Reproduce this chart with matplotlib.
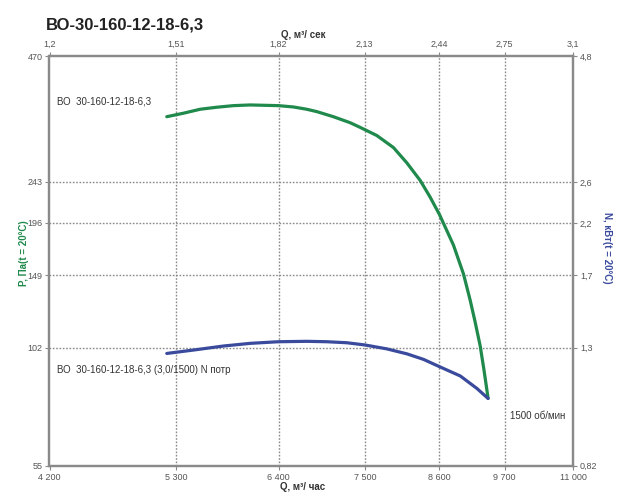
import matplotlib
matplotlib.use("Agg")
import matplotlib.pyplot as plt
import numpy as np

plt.rcParams['font.family'] = ['Liberation Sans', 'DejaVu Sans']

# Кривая давления P (Па) от Q (м3/час)
q_p = [5211, 5373, 5541, 5714, 5891, 6074, 6398, 6577, 6741, 6867, 7079, 7301, 7435,
       7668, 7906, 8105, 8305, 8457, 8605, 8828, 8993, 9104, 9188, 9274, 9339, 9410]
p_vals = [342.0, 348.3, 355.6, 359.4, 362.4, 363.7, 362.4, 359.9, 355.6, 351.2, 342.0,
          331.4, 323.5, 309.9, 291.0, 268.4, 244.9, 224.6, 204.8, 174.7, 150.1, 130.9,
          116.7, 102.9, 90.7, 78.2]

# Кривая мощности N (кВт) от Q (м3/час)
q_n = [5211, 5473, 5783, 6074, 6398, 6741, 6994, 7256, 7505, 7810, 8105, 8355, 8605,
       8940, 9216, 9410]
n_vals = [1.271, 1.288, 1.308, 1.321, 1.329, 1.331, 1.329, 1.324, 1.313, 1.294, 1.269,
          1.242, 1.207, 1.164, 1.109, 1.066]

# Оси
q_ticks = [4200, 5300, 6400, 7500, 8600, 9700, 11000]
q_labels = ['4 200', '5 300', '6 400', '7 500', '8 600', '9 700', '11 000']
qs_labels = ['1,2', '1,51', '1,82', '2,13', '2,44', '2,75', '3,1']
p_ticks = [55, 102, 149, 196, 243, 470]
n_ticks = [0.82, 1.3, 1.7, 2.2, 2.6, 4.8]
n_labels = ['0,82', '1,3', '1,7', '2,2', '2,6', '4,8']

green = '#1f8a4c'
blue = '#3a4a9c'
grey = '#8a8a8a'
txt = '#555555'

fig = plt.figure(figsize=(6.21, 4.94), dpi=100)
ax = fig.add_axes([49.5 / 621, 28.4 / 494, 523.5 / 621, 409.6 / 494])
ax.set_xscale('log')
ax.set_yscale('log')
ax.set_xlim(q_ticks[0], q_ticks[-1])
ax.set_ylim(p_ticks[0], p_ticks[-1])

# шкала N привязана к делениям P
lp = np.log10(p_ticks)
ln = np.log10(n_ticks)


def fwd(v):
    return np.interp(np.log10(np.clip(v, 1e-6, None)), ln, lp)


def inv(v):
    return 10 ** np.interp(v, lp, ln)


ax2 = ax.twinx()
ax2.set_yscale('function', functions=(fwd, inv))
ax2.set_ylim(n_ticks[0], n_ticks[-1])

for a in (ax, ax2):
    a.minorticks_off()
    a.set_facecolor('none')
    for s in a.spines.values():
        s.set_color(grey)
        s.set_linewidth(1.6)
        s.set_linestyle((0, (2, 1)))

ax.set_xticks(q_ticks)
ax.set_xticklabels(q_labels)
ax.set_yticks(p_ticks)
ax.set_yticklabels([str(v) for v in p_ticks])
ax2.set_yticks(n_ticks)
ax2.set_yticklabels(n_labels)
ax2.yaxis.set_minor_locator(matplotlib.ticker.NullLocator())

top = ax.secondary_xaxis('top')
top.set_xticks(q_ticks)
top.set_xticklabels(qs_labels)
top.xaxis.set_minor_locator(matplotlib.ticker.NullLocator())
top.spines['top'].set_visible(False)

for a in (ax, ax2, top):
    a.tick_params(length=3, width=0.8, color=grey, labelsize=6.5, labelcolor=txt, pad=2)

# сетка
for q in q_ticks[1:-1]:
    ax.axvline(q, color=grey, lw=1, ls=(0, (1.2, 1.2)), zorder=1)
for p in p_ticks[1:-1]:
    ax.axhline(p, color=grey, lw=1, ls=(0, (1.2, 1.2)), zorder=1)

ax.plot(q_p, p_vals, color=green, lw=2.3, solid_capstyle='round',
        solid_joinstyle='round', zorder=3)
ax2.plot(q_n, n_vals, color=blue, lw=2.3, solid_capstyle='round',
         solid_joinstyle='round', zorder=3)

ax.text(0.0143, 0.888, 'ВО  30-160-12-18-6,3', transform=ax.transAxes,
        fontsize=7, color='#333333', va='center')
ax.text(0.0143, 0.233, 'ВО  30-160-12-18-6,3 (3,0/1500) N потр', transform=ax.transAxes,
        fontsize=7, color='#333333', va='center')
ax.text(0.880, 0.121, '1500 об/мин', transform=ax.transAxes,
        fontsize=7, color='#333333', va='center')

fig.text(46 / 621, 1 - 25 / 494, 'ВО-30-160-12-18-6,3', fontsize=12, fontweight='bold',
         color='#222222', va='center')
fig.text(303 / 621, 1 - 35 / 494, 'Q, м³/ сек', fontsize=7, fontweight='bold',
         color='#333333', ha='center', va='center')
fig.text(303 / 621, 1 - 487 / 494, 'Q, м³/ час', fontsize=7, fontweight='bold',
         color='#333333', ha='center', va='center')
fig.text(24 / 621, 1 - 253 / 494, 'P, Па(t = 20°C)', fontsize=7, fontweight='bold',
         color=green, rotation=90, ha='center', va='center')
fig.text(607 / 621, 1 - 248 / 494, 'N, кВт(t = 20°C)', fontsize=7, fontweight='bold',
         color=blue, rotation=-90, ha='center', va='center')

fig.savefig('out.png', dpi=100)
